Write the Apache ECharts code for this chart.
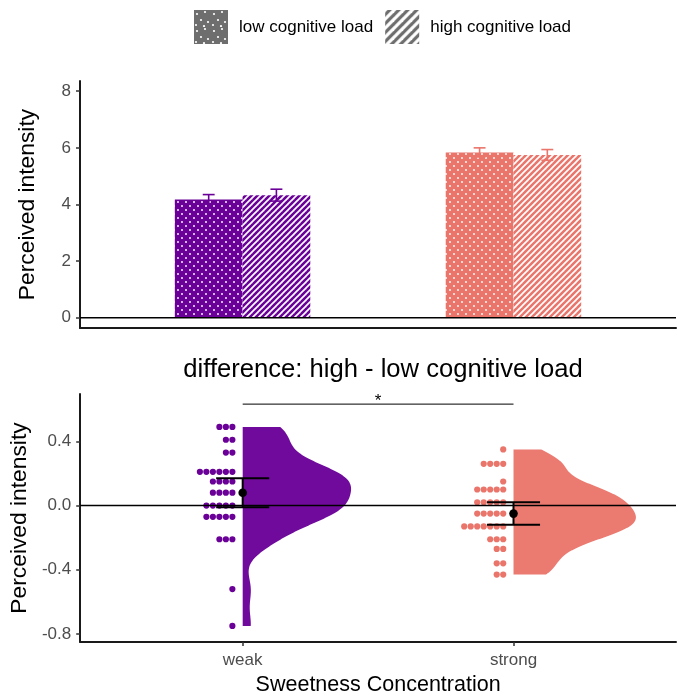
<!DOCTYPE html>
<html><head><meta charset="utf-8">
<script src="https://cdn.jsdelivr.net/npm/echarts@6/dist/echarts.min.js"></script>
<style>html,body{margin:0;padding:0;background:#fff}#c{width:678px;height:697px}</style>
</head><body><div id="c"></div>
<script>
// ---------------- data ----------------
const categories = ['weak', 'strong'];
const loadLevels = ['low cognitive load', 'high cognitive load'];
const barLow = [4.18, 5.84];
const barHigh = [4.33, 5.75];
const errLow = [0.17, 0.16];
const errHigh = [0.21, 0.19];
const topTicks = [0, 2, 4, 6, 8];
const bottomTicks = [-0.8, -0.4, 0.0, 0.4];
const diffWeak = [0.49, 0.49, 0.49, 0.41, 0.41, 0.33, 0.33,
  0.21, 0.21, 0.21, 0.21, 0.21, 0.21, 0.15, 0.15, 0.15, 0.15,
  0.08, 0.08, 0.08, 0.08, 0.00, 0.00, 0.00, 0.00, 0.00,
  -0.07, -0.07, -0.07, -0.07, -0.07, -0.21, -0.21, -0.21, -0.52, -0.75];
const diffStrong = [0.35, 0.26, 0.26, 0.26, 0.26, 0.15,
  0.10, 0.10, 0.10, 0.10, 0.10, 0.02, 0.02, 0.02, 0.02, 0.02,
  -0.05, -0.05, -0.05, -0.05, -0.05, -0.13, -0.13, -0.13, -0.13, -0.13, -0.13, -0.13,
  -0.21, -0.21, -0.21, -0.27, -0.27, -0.36, -0.36, -0.43, -0.43];
const diffMean = [0.08, -0.05];
const diffCiLow = [-0.01, -0.12];
const diffCiHigh = [0.17, 0.02];
const sigLevel = 0.632;
const sigLabel = '*';
const refLevel = 0;
const title = 'difference: high - low cognitive load';
const yTitle = 'Perceived intensity';
const xTitle = 'Sweetness Concentration';

// ---------------- style ----------------
const colors = ['#6A0098', '#EA756B'];
const FONT = "'Liberation Sans', Arial, sans-serif";
const X_MIN = 0.4, X_MAX = 2.6;

function makeTile(w, h, bg, draw) {
  const c = document.createElement('canvas');
  c.width = w; c.height = h;
  const g = c.getContext('2d');
  g.fillStyle = bg; g.fillRect(0, 0, w, h);
  draw(g, w, h);
  return c;
}
function dotPattern(bg, size, pts, r) {
  return { image: makeTile(size, size, bg, g => {
    g.fillStyle = '#fff';
    pts.forEach(([x, y]) => { g.beginPath(); g.arc(x, y, r, 0, Math.PI * 2); g.fill(); });
  }), repeat: 'repeat' };
}
function stripePattern(bg, s, lw) {
  return { image: makeTile(s, s, bg, g => {
    g.strokeStyle = '#fff'; g.lineWidth = lw;
    [[-s, s, s, -s], [0, s, s, 0], [0, 2 * s, 2 * s, 0]].forEach(([a, b, c, d]) => {
      g.beginPath(); g.moveTo(a, b); g.lineTo(c, d); g.stroke();
    });
  }), repeat: 'repeat' };
}
const barPatterns = [
  colors.map(c => dotPattern(c, 8, [[2, 2], [6, 6]], 0.95)),
  colors.map(c => stripePattern(c, 6, 1.7))
];
const legendGrey = '#6E6E6E';
const legendPatterns = [
  dotPattern(legendGrey, 17, [[3, 4], [11, 2], [7, 10], [14, 12], [2, 15], [10, 16]], 1.1),
  stripePattern(legendGrey, 9, 3.2)
];

// ---------------- derived (KDE etc.) ----------------
const groups = [diffWeak, diffStrong];
function quantile(sorted, p) {
  const h = (sorted.length - 1) * p, lo = Math.floor(h), hi = Math.ceil(h);
  return sorted[lo] + (sorted[hi] - sorted[lo]) * (h - lo);
}
function nrd0(vals) {
  const n = vals.length, m = vals.reduce((a, b) => a + b, 0) / n;
  const sd = Math.sqrt(vals.reduce((a, b) => a + (b - m) * (b - m), 0) / (n - 1));
  const s = vals.slice().sort((a, b) => a - b);
  const iqr = quantile(s, 0.75) - quantile(s, 0.25);
  return 0.9 * Math.min(sd, iqr / 1.34) * Math.pow(n, -0.2);
}
function density(vals, bw, y) {
  let s = 0;
  for (const v of vals) { const z = (y - v) / bw; s += Math.exp(-0.5 * z * z); }
  return s / (vals.length * bw * Math.sqrt(2 * Math.PI));
}
const profiles = groups.map(vals => {
  const bw = nrd0(vals), lo = Math.min(...vals), hi = Math.max(...vals), N = 256;
  const pts = [];
  for (let i = 0; i <= N; i++) { const y = hi - (hi - lo) * i / N; pts.push([y, density(vals, bw, y)]); }
  return pts;
});
const maxDens = Math.max(...profiles.map(p => Math.max(...p.map(q => q[1]))));
const VIOLIN_HALF = 0.452;

const dotData = [];
groups.forEach((vals, gi) => {
  const counts = {};
  vals.forEach(v => { const k = v.toFixed(3); counts[k] = (counts[k] || 0); dotData.push([gi + 1, v, counts[k]]); counts[k]++; });
});

// ---------------- chart ----------------
const chart = echarts.init(document.getElementById('c'), null, { renderer: 'canvas' });

function barSeries(side) {
  const vals = side === 0 ? barLow : barHigh;
  const errs = side === 0 ? errLow : errHigh;
  const off = side === 0 ? -0.125 : 0.125;
  return {
    type: 'custom', name: loadLevels[side], xAxisIndex: 0, yAxisIndex: 0,
    itemStyle: { color: legendPatterns[side] },
    data: categories.map((c, i) => [i + 1, vals[i], errs[i]]),
    encode: { x: 0, y: 1 },
    renderItem(params, api) {
      const i = params.dataIndex;
      const x = api.value(0) + off, v = api.value(1), e = api.value(2);
      const a = api.coord([x - 0.125, v]), b = api.coord([x + 0.125, 0]);
      const col = colors[i];
      const lt = api.coord([x, v + e]), lb = api.coord([x, v - e]);
      const cl = api.coord([x - 0.022, v + e]), cr = api.coord([x + 0.022, v - e]);
      return { type: 'group', children: [
        { type: 'rect', shape: { x: a[0], y: a[1], width: b[0] - a[0], height: b[1] - a[1] },
          style: { fill: barPatterns[side][i] } },
        { type: 'line', shape: { x1: lt[0], y1: lt[1], x2: lb[0], y2: lb[1] }, style: { stroke: col, lineWidth: 1.6 } },
        { type: 'line', shape: { x1: cl[0], y1: lt[1], x2: cr[0], y2: lt[1] }, style: { stroke: col, lineWidth: 1.6 } },
        { type: 'line', shape: { x1: cl[0], y1: lb[1], x2: cr[0], y2: lb[1] }, style: { stroke: col, lineWidth: 1.6 } }
      ] };
    }
  };
}

const axisLineStyle = { color: '#1a1a1a', width: 2 };
const labelStyle = { fontSize: 17, color: '#4D4D4D', fontFamily: FONT };
const nameStyle = { fontSize: 21.5, color: '#000', fontFamily: FONT };
const yNameStyle = { fontSize: 22.8, color: '#000', fontFamily: FONT };

const option = {
  animation: false,
  textStyle: { fontFamily: FONT },
  title: { text: title, left: 378, textAlign: 'center', top: 352,
    textStyle: { fontSize: 25.6, fontWeight: 'normal', color: '#000', fontFamily: FONT } },
  legend: {
    left: 194, top: 10, padding: 0, itemWidth: 34, itemHeight: 34, itemGap: 12, icon: 'rect',
    textStyle: { fontSize: 17, color: '#000', fontFamily: FONT, padding: [0, 0, 0, 6] },
    selectedMode: false,
    data: loadLevels.map((n, i) => ({ name: n, itemStyle: { color: legendPatterns[i], borderWidth: 0 } }))
  },
  grid: [
    { left: 80, right: 2, top: 81, height: 247 },
    { left: 80, right: 2, top: 394, height: 249 }
  ],
  xAxis: [
    { type: 'value', gridIndex: 0, min: X_MIN, max: X_MAX,
      axisLine: { show: true, onZero: false, lineStyle: axisLineStyle },
      axisTick: { show: false }, axisLabel: { show: false }, splitLine: { show: false } },
    { type: 'value', gridIndex: 1, min: X_MIN, max: X_MAX,
      name: xTitle, nameLocation: 'middle', nameGap: 32, nameTextStyle: nameStyle,
      axisLine: { show: true, onZero: false, lineStyle: axisLineStyle },
      axisTick: { show: true, length: 4, lineStyle: { color: '#333', width: 1.5 }, customValues: categories.map((c, i) => i + 1) },
      axisLabel: Object.assign({ margin: 10, customValues: categories.map((c, i) => i + 1),
        formatter: v => categories[Math.round(v) - 1] || '' }, labelStyle),
      splitLine: { show: false } }
  ],
  yAxis: [
    { type: 'value', gridIndex: 0, min: -0.36, max: 8.36,
      name: yTitle, nameLocation: 'middle', nameGap: 41, nameTextStyle: yNameStyle,
      axisLine: { show: true, onZero: false, lineStyle: axisLineStyle },
      axisTick: { show: true, length: 4, lineStyle: { color: '#333', width: 1.5 }, customValues: topTicks },
      axisLabel: Object.assign({ margin: 9, customValues: topTicks, formatter: v => String(v) }, labelStyle),
      splitLine: { show: false } },
    { type: 'value', gridIndex: 1, min: -0.85, max: 0.695,
      name: yTitle, nameLocation: 'middle', nameGap: 41, nameTextStyle: yNameStyle,
      axisLine: { show: true, onZero: false, lineStyle: axisLineStyle },
      axisTick: { show: true, length: 4, lineStyle: { color: '#333', width: 1.5 }, customValues: bottomTicks },
      axisLabel: Object.assign({ margin: 9, customValues: bottomTicks, formatter: v => v.toFixed(1) }, labelStyle),
      splitLine: { show: false } }
  ],
  series: [
    { type: 'line', xAxisIndex: 0, yAxisIndex: 0, silent: true, symbol: 'none',
      lineStyle: { color: '#000', width: 1.6 }, data: [[X_MIN, refLevel], [X_MAX, refLevel]] },
    barSeries(0),
    barSeries(1),
    { type: 'custom', xAxisIndex: 1, yAxisIndex: 1, silent: true,
      data: dotData, encode: { x: 0, y: 1 },
      renderItem(params, api) {
        const p = api.coord([api.value(0), api.value(1)]);
        const k = api.value(2);
        return { type: 'circle', shape: { cx: p[0] - 10.3 - k * 6.5, cy: p[1], r: 3.1 },
          style: { fill: colors[api.value(0) - 1] } };
      } },
    { type: 'line', xAxisIndex: 1, yAxisIndex: 1, silent: true, symbol: 'none',
      lineStyle: { color: '#000', width: 1.6 }, data: [[X_MIN, refLevel], [X_MAX, refLevel]] },
    { type: 'custom', xAxisIndex: 1, yAxisIndex: 1, silent: true,
      data: categories.map((c, i) => [i + 1, diffMean[i]]), encode: { x: 0, y: 1 },
      renderItem(params, api) {
        const i = params.dataIndex, cx = i + 1, prof = profiles[i];
        const pts = prof.map(([y, d]) => api.coord([cx + VIOLIN_HALF * d / maxDens, y]));
        pts.push(api.coord([cx, prof[prof.length - 1][0]]));
        pts.push(api.coord([cx, prof[0][0]]));
        return { type: 'polygon', shape: { points: pts }, style: { fill: colors[i], opacity: 0.96 } };
      } },
    { type: 'custom', xAxisIndex: 1, yAxisIndex: 1, silent: true,
      data: categories.map((c, i) => [i + 1, diffMean[i], diffCiLow[i], diffCiHigh[i]]), encode: { x: 0, y: 1 },
      renderItem(params, api) {
        const cx = api.value(0), m = api.value(1), lo = api.value(2), hi = api.value(3);
        const t = api.coord([cx, hi]), b = api.coord([cx, lo]), c = api.coord([cx, m]);
        const l = api.coord([cx - 0.098, hi])[0], r = api.coord([cx + 0.098, hi])[0];
        const st = { stroke: '#000', lineWidth: 2 };
        return { type: 'group', children: [
          { type: 'line', shape: { x1: t[0], y1: t[1], x2: b[0], y2: b[1] }, style: st },
          { type: 'line', shape: { x1: l, y1: t[1], x2: r, y2: t[1] }, style: st },
          { type: 'line', shape: { x1: l, y1: b[1], x2: r, y2: b[1] }, style: st },
          { type: 'circle', shape: { cx: c[0], cy: c[1], r: 4.3 }, style: { fill: '#000' } }
        ] };
      } },
    { type: 'custom', xAxisIndex: 1, yAxisIndex: 1, silent: true,
      data: [[1, sigLevel, 2]], encode: { x: 0, y: 1 },
      renderItem(params, api) {
        const a = api.coord([api.value(0), api.value(1)]), b = api.coord([api.value(2), api.value(1)]);
        return { type: 'group', children: [
          { type: 'line', shape: { x1: a[0], y1: a[1], x2: b[0], y2: b[1] }, style: { stroke: '#000', lineWidth: 1 } },
          { type: 'text', x: (a[0] + b[0]) / 2, y: a[1] + 6,
            style: { text: sigLabel, fontSize: 17, fontFamily: FONT, fill: '#000', align: 'center', verticalAlign: 'bottom' } }
        ] };
      } }
  ]
};
chart.setOption(option);
</script>
</body></html>
